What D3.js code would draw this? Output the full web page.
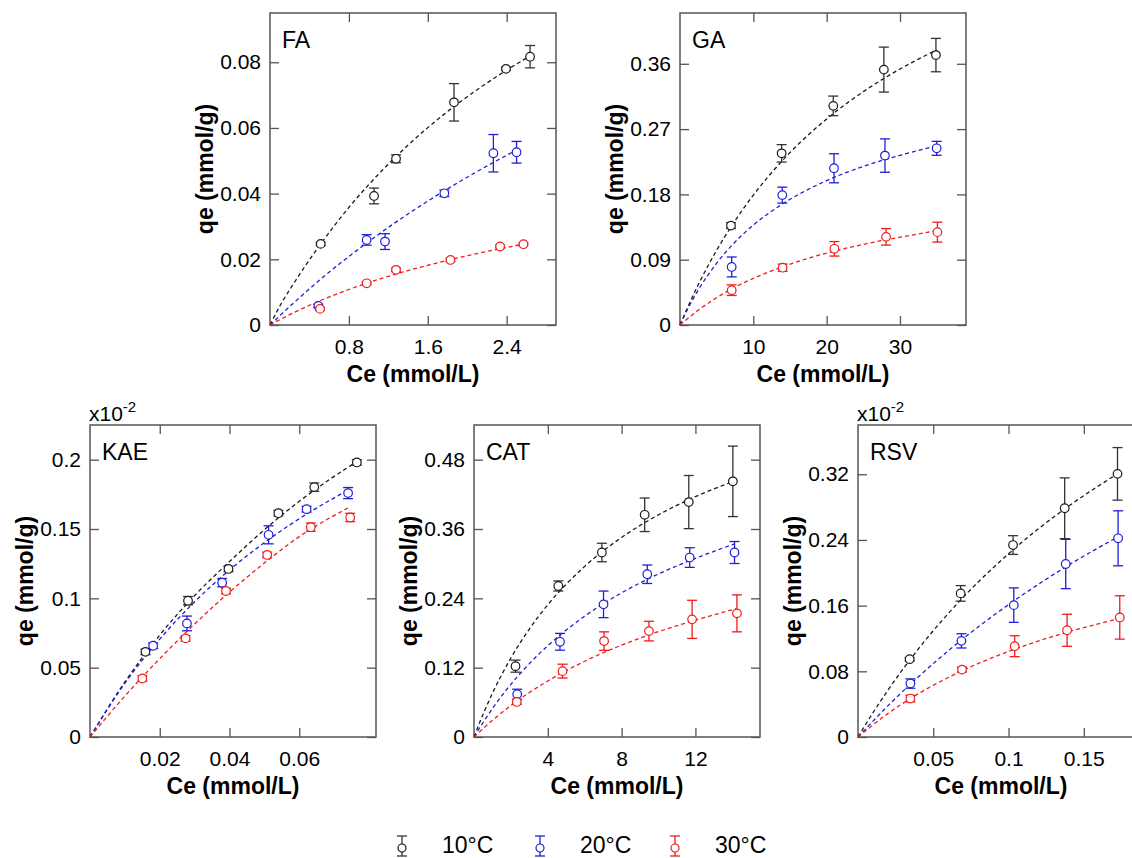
<!DOCTYPE html>
<html><head><meta charset="utf-8">
<script src="https://cdn.jsdelivr.net/npm/d3@7"></script>
<style>
body{margin:0;background:#fff}
text{font-family:"Liberation Sans",Arial,Helvetica,sans-serif;fill:#000}
</style>
</head><body>
<svg id="chart" width="1132" height="858"></svg>
<script>
// ---------------- DATA ----------------
const seriesNames = ["10°C", "20°C", "30°C"];

// points: [Ce, qe, error]
const fa10 = [[0.514,0.0247,0.0005],[1.055,0.0393,0.0024],[1.278,0.0506,0.0012],[1.866,0.0678,0.0057],[2.393,0.0780,0.0005],[2.637,0.0817,0.0034]];
const fa20 = [[0.49,0.0058,0.0005],[0.98,0.0259,0.0016],[1.166,0.0254,0.0024],[1.768,0.0401,0.0010],[2.265,0.0523,0.0057],[2.50,0.0526,0.0033]];
const fa30 = [[0.507,0.0049,0.0005],[0.98,0.0127,0.0004],[1.278,0.0168,0.0005],[1.83,0.0198,0.0005],[2.333,0.0239,0.0004],[2.57,0.0246,0.0004]];
// fitted curves: [Ce, qe]
const faFit10 = [[0,0],[0.1,0.0058],[0.25,0.0131],[0.5,0.0241],[0.8,0.0358],[1.2,0.0490],[1.6,0.0601],[2.0,0.0695],[2.4,0.0776],[2.63,0.0818]];
const faFit20 = [[0,0],[0.25,0.0070],[0.5,0.0136],[1.0,0.0254],[1.5,0.0358],[2.0,0.0450],[2.5,0.0533]];
const faFit30 = [[0,0],[0.25,0.0039],[0.5,0.0073],[1.0,0.0129],[1.5,0.0174],[2.0,0.0211],[2.57,0.0246]];
const faXTicks = [0.8, 1.6, 2.4];
const faYTicks = [0, 0.02, 0.04, 0.06, 0.08];

const ga10 = [[6.95,0.137,0.004],[13.86,0.2366,0.012],[20.9,0.302,0.0135],[27.8,0.352,0.031],[34.9,0.372,0.023]];
const ga20 = [[7.05,0.080,0.0137],[13.95,0.179,0.011],[21.0,0.216,0.020],[27.95,0.2335,0.023],[35.0,0.2435,0.0096]];
const ga30 = [[7.05,0.048,0.0073],[14.0,0.079,0.005],[21.05,0.105,0.010],[28.1,0.1215,0.0114],[35.1,0.128,0.0137]];
const gaFit10 = [[0,0],[1,0.0234],[2.5,0.0557],[5,0.103],[7,0.136],[10,0.179],[14,0.227],[20,0.284],[25,0.3216],[30,0.3528],[35,0.379]];
const gaFit20 = [[0,0],[1,0.021],[2.5,0.0484],[5,0.0852],[7,0.109],[10,0.1378],[14,0.167],[20,0.199],[25,0.2186],[30,0.2338],[35,0.247]];
const gaFit30 = [[0,0],[2.5,0.0206],[5,0.0376],[7,0.0494],[10,0.0642],[14,0.0803],[20,0.0991],[25,0.1111],[30,0.121],[35,0.130]];
const gaXTicks = [10, 20, 30];
const gaYTicks = [0, 0.09, 0.18, 0.27, 0.36];

const kae10 = [[0.0159,0.0614,0.002],[0.0281,0.0983,0.003],[0.0397,0.1212,0.002],[0.054,0.1614,0.002],[0.0643,0.1802,0.003],[0.0765,0.198,0.002]];
const kae20 = [[0.0181,0.0658,0.002],[0.0278,0.0819,0.0053],[0.0379,0.1113,0.003],[0.0512,0.1458,0.0065],[0.0621,0.1643,0.002],[0.074,0.1759,0.004]];
const kae30 = [[0.015,0.0422,0.002],[0.0274,0.0711,0.002],[0.039,0.1053,0.002],[0.0508,0.1313,0.002],[0.0633,0.1513,0.003],[0.0746,0.1583,0.003]];
const kaeFit10 = [[0,0],[0.01,0.0397],[0.02,0.0735],[0.03,0.1020],[0.04,0.1265],[0.05,0.1495],[0.06,0.1700],[0.0767,0.199]];
const kaeFit20 = [[0,0],[0.01,0.0387],[0.02,0.0706],[0.03,0.0975],[0.04,0.1204],[0.05,0.1402],[0.06,0.1574],[0.0738,0.1778]];
const kaeFit30 = [[0,0],[0.01,0.0295],[0.02,0.0565],[0.03,0.0815],[0.04,0.1045],[0.05,0.1255],[0.06,0.1445],[0.0746,0.166]];
const kaeXTicks = [0.02, 0.04, 0.06];
const kaeYTicks = [0, 0.05, 0.1, 0.15, 0.2];

const cat10 = [[2.25,0.1226,0.0104],[4.57,0.2614,0.0087],[6.93,0.3193,0.016],[9.25,0.3846,0.029],[11.64,0.4066,0.046],[14.03,0.4425,0.061]];
const cat20 = [[2.34,0.074,0.0087],[4.66,0.1648,0.0145],[7.02,0.2296,0.023],[9.39,0.2817,0.016],[11.69,0.3106,0.017],[14.12,0.3193,0.019]];
const cat30 = [[2.32,0.0607,0.004],[4.8,0.114,0.012],[7.05,0.166,0.016],[9.48,0.1833,0.017],[11.82,0.2036,0.033],[14.25,0.214,0.032]];
const catFit10 = [[0,0],[0.5,0.040],[1,0.0757],[2,0.1367],[3,0.1869],[4,0.2289],[6,0.2953],[8,0.3454],[10,0.3846],[12,0.416],[14,0.4418]];
const catFit20 = [[0,0],[1,0.0494],[2,0.0912],[3,0.127],[4,0.158],[6,0.2092],[8,0.2495],[10,0.2822],[12,0.3092],[14.1,0.334]];
const catFit30 = [[0,0],[1,0.029],[2,0.0545],[3,0.077],[4,0.097],[6,0.1311],[8,0.159],[10,0.1824],[12,0.2022],[14.2,0.222]];
const catXTicks = [4, 8, 12];
const catYTicks = [0, 0.12, 0.24, 0.36, 0.48];

const rsv10 = [[0.0343,0.0948,0.002],[0.0682,0.1749,0.0095],[0.103,0.2338,0.0114],[0.1373,0.2786,0.037],[0.1724,0.3205,0.032]];
const rsv20 = [[0.0348,0.0651,0.0057],[0.0687,0.1171,0.0087],[0.1035,0.1606,0.021],[0.138,0.2107,0.030],[0.1728,0.242,0.0335]];
const rsv30 = [[0.0348,0.0468,0.004],[0.0691,0.0821,0.003],[0.1041,0.1106,0.0127],[0.1389,0.130,0.0195],[0.1739,0.1456,0.0264]];
const rsvFit10 = [[0,0],[0.01,0.0297],[0.02,0.0573],[0.04,0.107],[0.06,0.1505],[0.08,0.189],[0.1,0.2231],[0.12,0.2538],[0.14,0.2813],[0.1724,0.3206]];
const rsvFit20 = [[0,0],[0.02,0.0382],[0.04,0.0731],[0.06,0.105],[0.08,0.1342],[0.1,0.1612],[0.12,0.1862],[0.14,0.2094],[0.1728,0.2439]];
const rsvFit30 = [[0,0],[0.02,0.0288],[0.04,0.0526],[0.06,0.0725],[0.08,0.0896],[0.1,0.1042],[0.12,0.117],[0.14,0.1282],[0.1739,0.1444]];
const rsvXTicks = [0.05, 0.1, 0.15];
const rsvYTicks = [0, 0.08, 0.16, 0.24, 0.32];

// ---------------- LAYOUT / STYLE ----------------
const colors = ["#1a1a1a", "#1f1fd6", "#f21a1a"];
const barColors = ["#333333", "#1f1fd6", "#f21a1a"];
const W = 286, H = 312;

const panels = [
  {name:"FA",  left:270, top:13,  xMax:2.9,   yMax:0.095, xt:faXTicks,  yt:faYTicks,  pts:[fa10,fa20,fa30],    fits:[faFit10,faFit20,faFit30],    mult:false},
  {name:"GA",  left:680, top:13,  xMax:39,    yMax:0.43,  xt:gaXTicks,  yt:gaYTicks,  pts:[ga10,ga20,ga30],    fits:[gaFit10,gaFit20,gaFit30],    mult:false},
  {name:"KAE", left:90,  top:425, xMax:0.082, yMax:0.225, xt:kaeXTicks, yt:kaeYTicks, pts:[kae10,kae20,kae30], fits:[kaeFit10,kaeFit20,kaeFit30], mult:true},
  {name:"CAT", left:474, top:425, xMax:15.5,  yMax:0.54,  xt:catXTicks, yt:catYTicks, pts:[cat10,cat20,cat30], fits:[catFit10,catFit20,catFit30], mult:false},
  {name:"RSV", left:858, top:425, xMax:0.19,  yMax:0.38,  xt:rsvXTicks, yt:rsvYTicks, pts:[rsv10,rsv20,rsv30], fits:[rsvFit10,rsvFit20,rsvFit30], mult:true}
];

const svg = d3.select("#chart");

panels.forEach(p => {
  const g = svg.append("g").attr("transform", `translate(${p.left},${p.top})`);
  const x = d3.scaleLinear().domain([0, p.xMax]).range([0, W]);
  const y = d3.scaleLinear().domain([0, p.yMax]).range([H, 0]);

  const styleAxis = sel => {
    sel.select(".domain").remove();
    sel.selectAll(".tick line").attr("stroke", "#555").attr("stroke-width", 1.3);
    sel.selectAll(".tick text").style("font-size", "21px").attr("fill", "#000");
  };

  g.append("g").attr("transform", `translate(0,${H})`)
    .call(d3.axisBottom(x).tickValues(p.xt).tickFormat(d => String(d)).tickSize(-9).tickPadding(14))
    .call(styleAxis);
  g.append("g")
    .call(d3.axisLeft(y).tickValues(p.yt).tickFormat(d => String(d)).tickSize(-9).tickPadding(9))
    .call(styleAxis);
  g.append("g")
    .call(d3.axisTop(x).tickValues(p.xt).tickFormat("").tickSize(-9))
    .call(styleAxis);
  g.append("g").attr("transform", `translate(${W},0)`)
    .call(d3.axisRight(y).tickValues(p.yt).tickFormat("").tickSize(-9))
    .call(styleAxis);

  g.append("rect").attr("x", 0).attr("y", 0).attr("width", W).attr("height", H)
    .attr("fill", "none").attr("stroke", "#555").attr("stroke-width", 1.5);

  // fit curves
  const line = d3.line().x(d => x(d[0])).y(d => y(d[1])).curve(d3.curveMonotoneX);
  p.fits.forEach((f, i) => {
    g.append("path").datum(f).attr("d", line)
      .attr("fill", "none").attr("stroke", colors[i])
      .attr("stroke-width", 1.3).attr("stroke-dasharray", "4,3");
  });

  // error bars and markers
  p.pts.forEach((s, i) => {
    const sg = g.append("g");
    const eb = sg.selectAll("g.eb").data(s).enter().append("g")
      .attr("stroke", barColors[i]).attr("stroke-width", 1.3);
    eb.append("line").attr("x1", d => x(d[0])).attr("x2", d => x(d[0]))
      .attr("y1", d => y(d[1] - d[2])).attr("y2", d => y(d[1] + d[2]));
    eb.append("line").attr("x1", d => x(d[0]) - 5).attr("x2", d => x(d[0]) + 5)
      .attr("y1", d => y(d[1] + d[2])).attr("y2", d => y(d[1] + d[2]));
    eb.append("line").attr("x1", d => x(d[0]) - 5).attr("x2", d => x(d[0]) + 5)
      .attr("y1", d => y(d[1] - d[2])).attr("y2", d => y(d[1] - d[2]));
    sg.selectAll("circle").data(s).enter().append("circle")
      .attr("cx", d => x(d[0])).attr("cy", d => y(d[1])).attr("r", 4.3)
      .attr("fill", "#fff").attr("stroke", colors[i]).attr("stroke-width", 1.2);
  });

  // labels
  g.append("text").attr("x", 12).attr("y", 35).style("font-size", "23px").text(p.name);
  g.append("text").attr("x", W / 2).attr("y", H + 57).attr("text-anchor", "middle")
    .style("font-size", "23px").style("font-weight", "bold").text("Ce (mmol/L)");
  g.append("text").attr("transform", `translate(-57,${H / 2}) rotate(-90)`).attr("text-anchor", "middle")
    .style("font-size", "23px").style("font-weight", "bold").text("qe (mmol/g)");
  if (p.mult) {
    const t = g.append("text").attr("x", -1).attr("y", -4).style("font-size", "21px");
    t.append("tspan").text("x10");
    t.append("tspan").attr("dy", -9).style("font-size", "15px").text("-2");
  }
});

// legend
const legX = [402, 540, 675];
seriesNames.forEach((n, i) => {
  const lg = svg.append("g").attr("transform", `translate(${legX[i]},0)`);
  lg.append("line").attr("x1", 0).attr("x2", 0).attr("y1", 836).attr("y2", 856).attr("stroke", barColors[i]).attr("stroke-width", 1.3);
  lg.append("line").attr("x1", -5).attr("x2", 5).attr("y1", 836).attr("y2", 836).attr("stroke", barColors[i]).attr("stroke-width", 1.3);
  lg.append("line").attr("x1", -5).attr("x2", 5).attr("y1", 856).attr("y2", 856).attr("stroke", barColors[i]).attr("stroke-width", 1.3);
  lg.append("circle").attr("cx", 0).attr("cy", 848).attr("r", 4).attr("fill", "#fff").attr("stroke", colors[i]).attr("stroke-width", 1.2);
  lg.append("text").attr("x", 40).attr("y", 853).style("font-size", "23px").text(n);
});
</script>
</body></html>
